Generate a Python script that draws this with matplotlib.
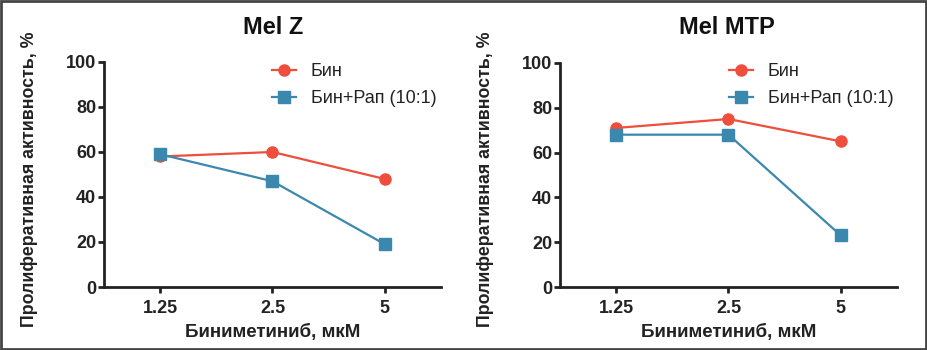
import matplotlib.pyplot as plt
from matplotlib.patches import Rectangle

plt.rcParams['font.family'] = ['Liberation Sans', 'DejaVu Sans']

doses = ["1.25", "2.5", "5"]
titles = ["Mel Z", "Mel MTP"]
bin_vals = [[58, 60, 48], [71, 75, 65]]
binrap_vals = [[59, 47, 19], [68, 68, 23]]
series_names = ["Бин", "Бин+Рап (10:1)"]
y_ticks = [0, 20, 40, 60, 80, 100]

red = "#EE4E3C"
blue = "#3B88AE"
dark = "#222222"

fig = plt.figure(figsize=(9.28, 3.5), dpi=100)
W, H = 928, 350

# axes boxes in pixels: left, right, top(y=100), bottom(y=0)
boxes = [(104, 441, 62, 287), (560, 897, 63, 287)]
title_x = [273, 727]
ylabel_x = [30, 486]
legend_x = [272, 729]

for i, (l, r, t, b) in enumerate(boxes):
    ax = fig.add_axes([l / W, 1 - b / H, (r - l) / W, (b - t) / H])
    x = list(range(len(doses)))
    ax.plot(x, bin_vals[i], color=red, lw=1.6, marker="o", ms=8, label=series_names[0], zorder=3)
    ax.plot(x, binrap_vals[i], color=blue, lw=1.6, marker="s", ms=8, label=series_names[1], zorder=3)
    ax.set_xlim(-0.5, 2.5)
    ax.set_ylim(0, 100)
    ax.set_xticks(x)
    ax.set_xticklabels(doses)
    ax.set_yticks(y_ticks)
    for s in ["top", "right"]:
        ax.spines[s].set_visible(False)
    for s in ["left", "bottom"]:
        ax.spines[s].set_linewidth(2)
        ax.spines[s].set_color(dark)
    ax.tick_params(axis="both", width=2, length=4.5, color=dark,
                   labelsize=13, labelcolor=dark, pad=1)
    for lab in ax.get_xticklabels() + ax.get_yticklabels():
        lab.set_fontweight("bold")
    ax.tick_params(axis="x", pad=5)
    ax.set_xlabel("Биниметиниб, мкМ", fontsize=13.5, fontweight="bold", color=dark, labelpad=5)
    fig.text(ylabel_x[i] / W, 1 - 179 / H, "Пролиферативная активность, %", rotation=90,
             fontsize=12.8, fontweight="bold", color=dark, ha="center", va="center")
    fig.text(title_x[i] / W, 1 - 28 / H, titles[i], fontsize=17, fontweight="bold",
             ha="center", va="center", color="#111111")
    ax.legend(loc="upper left", bbox_to_anchor=(legend_x[i] / W, 1 - 63 / H),
              bbox_transform=fig.transFigure, borderaxespad=0, borderpad=0,
              frameon=False, fontsize=13, handlelength=1.35, handletextpad=0.8,
              labelspacing=0.55, labelcolor=dark)

fig.patches.append(Rectangle((0.001, 0.003), 0.997, 0.994, transform=fig.transFigure,
                             fill=False, ec="#444444", lw=2))

fig.savefig("out.png", dpi=100)
